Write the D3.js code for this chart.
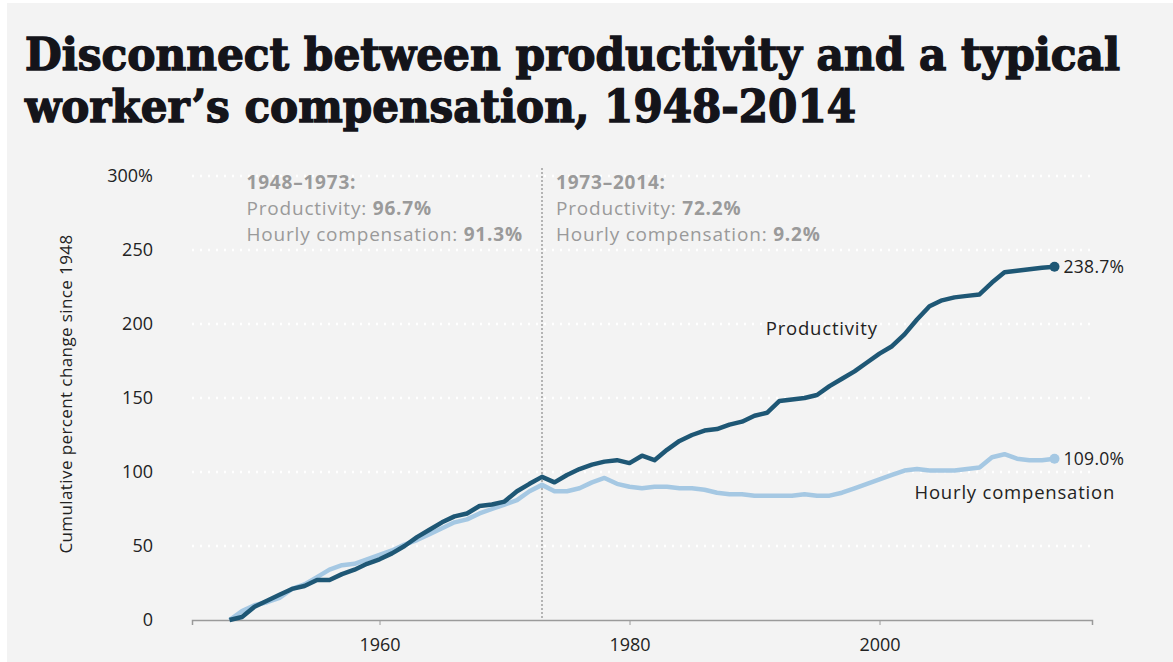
<!DOCTYPE html>
<html>
<head>
<meta charset="utf-8">
<script src="https://cdn.jsdelivr.net/npm/d3@7"></script>
<style>
  body { margin: 0; background: #fff; }
  svg text { font-family: "Open Sans", "Noto Sans", sans-serif; }
</style>
</head>
<body>
<div id="chart"></div>
<script>
// years 1948..2014
const years = d3.range(1948, 2015);
// cumulative percent change since 1948
const productivity = [
  0, 2, 9, 13, 17, 21, 23, 27, 27, 31,
  34, 38, 41, 45, 50, 56, 61, 66, 70, 72,
  77, 78, 80, 87, 92, 96.7, 93, 98, 102, 105,
  107, 108, 106, 111, 108, 115, 121, 125, 128, 129,
  132, 134, 138, 140, 148, 149, 150, 152, 158, 163,
  168, 174, 180, 185, 193, 203, 212, 216, 218, 219,
  220, 228, 235, 236, 237, 238, 238.7
];
const compensation = [
  0, 6, 10, 12, 15, 21, 24, 29, 34, 37,
  38, 41, 44, 47, 51, 54, 58, 62, 66, 68,
  72, 75, 78, 81, 87, 91.3, 87, 87, 89, 93,
  96, 92, 90, 89, 90, 90, 89, 89, 88, 86,
  85, 85, 84, 84, 84, 84, 85, 84, 84, 86,
  89, 92, 95, 98, 101, 102, 101, 101, 101, 102,
  103, 110, 112, 109, 108, 108, 109
];
const yTicks = [0, 50, 100, 150, 200, 250, 300];
const xTicks = [1960, 1980, 2000];
const titleLines = ["Disconnect between productivity and a typical", "worker\u2019s compensation, 1948-2014"];
const periods = [
  { head: "1948\u20131973:", prod: "96.7%", comp: "91.3%", year: 1948 },
  { head: "1973\u20132014:", prod: "72.2%", comp: "9.2%", year: 1973 }
];

const W = 1173, H = 662;
const margin = { top: 176, right: 81, bottom: 42, left: 192 };
const innerW = W - margin.left - margin.right;
const innerH = H - margin.top - margin.bottom;

const svg = d3.select("#chart").append("svg")
  .attr("width", W).attr("height", H);

// fondo
svg.append("rect").attr("x", 7).attr("y", 3).attr("width", W - 7).attr("height", H - 3)
  .attr("fill", "#f3f3f3");

// titulo (dos lineas)
svg.selectAll(".title").data(titleLines).enter().append("text")
  .attr("class", "title")
  .attr("x", 25).attr("y", (d, i) => 70 + i * 52)
  .attr("textLength", (d, i) => i === 0 ? 1095 : 831)
  .attr("lengthAdjust", "spacingAndGlyphs")
  .style("font-family", "'DejaVu Serif Condensed', 'DejaVu Serif', serif")
  .style("font-weight", "bold")
  .style("font-size", "44px")
  .attr("fill", "#14141a")
  .attr("stroke", "#14141a").attr("stroke-width", 1.3)
  .text(d => d);

const g = svg.append("g").attr("transform", `translate(${margin.left},${margin.top})`);

const x = d3.scaleLinear().domain([1945, 2017]).range([0, innerW]);
const y = d3.scaleLinear().domain([0, 300]).range([innerH, 0]);

// grid
g.append("g").selectAll("line").data(yTicks.filter(d => d > 0)).enter().append("line")
  .attr("x1", 0).attr("x2", innerW)
  .attr("y1", d => y(d)).attr("y2", d => y(d))
  .attr("stroke", "#ffffff").attr("stroke-width", 2.5)
  .attr("stroke-dasharray", "2,6");

// eje Y
const axisY = d3.axisLeft(y).tickValues(yTicks).tickSize(0).tickPadding(39)
  .tickFormat(d => d === 300 ? "300%" : d);
const ejeY = g.append("g").call(axisY);
ejeY.select(".domain").remove();
ejeY.selectAll("text").style("font-size", "18px").attr("fill", "#222")
  .style("font-family", "'Open Sans', sans-serif");

// eje X
const axisX = d3.axisBottom(x).tickValues(xTicks).tickSize(5).tickPadding(13).tickFormat(d3.format("d"));
const ejeX = g.append("g").attr("transform", `translate(0,${innerH})`).call(axisX);
ejeX.select(".domain").attr("stroke", "#9a9a9a").attr("stroke-width", 1.5);
ejeX.selectAll(".tick line").attr("stroke", "#9a9a9a");
ejeX.selectAll("text").style("font-size", "18px").attr("fill", "#222")
  .style("font-family", "'Open Sans', sans-serif");

// titulo eje Y
svg.append("text")
  .attr("transform", `translate(66,394) rotate(-90)`)
  .attr("text-anchor", "middle")
  .attr("dy", "0.35em")
  .style("font-size", "17px").style("letter-spacing", "0.4px").attr("fill", "#222")
  .text("Cumulative percent change since 1948");

// linea 1973
g.append("line")
  .attr("x1", x(1973)).attr("x2", x(1973))
  .attr("y1", -8).attr("y2", innerH)
  .attr("stroke", "#a0a0a0").attr("stroke-width", 1.5)
  .attr("stroke-dasharray", "2,2");

// anotaciones de periodos
const annStyle = sel => sel.style("font-size", "19px").style("letter-spacing", "0.8px").attr("fill", "#9a9a9a");
const ann = g.selectAll(".period").data(periods).enter().append("g")
  .attr("transform", d => `translate(${x(d.year) + (d.year === 1948 ? 17 : 14)},0)`);
ann.append("text").attr("y", 13).call(annStyle).style("font-weight", "bold").text(d => d.head);
const l2 = ann.append("text").attr("y", 39).call(annStyle);
l2.append("tspan").text("Productivity: ");
l2.append("tspan").style("font-weight", "bold").text(d => d.prod);
const l3 = ann.append("text").attr("y", 65).call(annStyle);
l3.append("tspan").text("Hourly compensation: ");
l3.append("tspan").style("font-weight", "bold").text(d => d.comp);

// lineas de datos
const line = d3.line().x((d, i) => x(years[i])).y(d => y(d));
const series = [
  { name: "Hourly compensation", values: compensation, color: "#a5c8e3", lx: 2002.8, ly: 86 },
  { name: "Productivity", values: productivity, color: "#1e5775", lx: 1990.9, ly: 197 }
];
series.forEach(s => {
  g.append("path").datum(s.values)
    .attr("d", line)
    .attr("fill", "none")
    .attr("stroke", s.color)
    .attr("stroke-width", 4.5)
    .attr("stroke-linejoin", "round");
  const last = s.values[s.values.length - 1];
  g.append("circle")
    .attr("cx", x(years[years.length - 1])).attr("cy", y(last)).attr("r", 5)
    .attr("fill", s.color);
  g.append("text")
    .attr("x", x(years[years.length - 1]) + 9).attr("y", y(last))
    .attr("dy", "0.35em")
    .style("font-size", "17.5px").style("letter-spacing", "0.3px").attr("fill", "#222")
    .text(last.toFixed(1) + "%");
  g.append("text")
    .attr("x", x(s.lx)).attr("y", y(s.ly))
    .attr("dy", "0.35em")
    .style("font-size", "18.5px").style("letter-spacing", "0.8px").attr("fill", "#222")
    .text(s.name);
});
</script>
</body>
</html>
